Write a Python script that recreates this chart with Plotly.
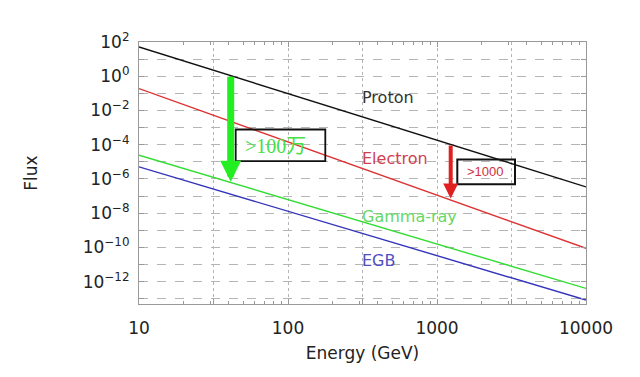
import plotly.graph_objects as go

# ---- data ----
energy = [10, 10000]                       # GeV
proton_flux = [10**1.71, 10**-6.46]
electron_flux = [10**-0.72, 10**-10.05]
gamma_flux = [10**-4.61, 10**-12.39]
egb_flux = [10**-5.29, 10**-13.07]

series_names = ["Proton", "Electron", "Gamma-ray", "EGB"]
line_colors = ["#111111", "#dd3333", "#33dd33", "#3333bb"]
label_colors = ["#333333", "#d04050", "#66d866", "#5050c0"]

x_tickvals = [10, 100, 1000, 10000]
x_ticktext = ["10", "100", "1000", "10000"]
x_half_decades = [10**1.5, 10**2.5, 10**3.5]
x_minor_vals = [m * 10**d for d in (1, 2, 3) for m in range(2, 10)]
y_tickvals = [10**e for e in range(-12, 3, 2)]
y_ticktext = ["10<sup>%s</sup>" % str(e).replace("-", "\u2212") for e in range(-12, 3, 2)]
y_minor_vals = [10**e for e in range(-13, 3, 2)]

# plot-area pixel geometry (for placing marks on paper coordinates)
L, R, T, B = 139, 586, 41.7, 304
def px(x): return (x - L) / (R - L)
def py(y): return (B - y) / (B - T)

fig = go.Figure()
for name, flux, col in zip(series_names, [proton_flux, electron_flux, gamma_flux, egb_flux], line_colors):
    fig.add_trace(go.Scatter(x=energy, y=flux, mode="lines", name=name,
                             line=dict(color=col, width=1.4), showlegend=False))
# invisible trace to anchor the half-decade grid axis
fig.add_trace(go.Scatter(x=energy, y=proton_flux, xaxis="x2", mode="lines",
                         line=dict(width=0), opacity=0, showlegend=False, hoverinfo="skip"))

grid_col = "#b5b5b5"
axis_common = dict(type="log", showline=True, linecolor="#999999", linewidth=1.2,
                   mirror="ticks", ticks="inside", ticklen=5, tickcolor="#999999",
                   gridcolor=grid_col, gridwidth=1, zeroline=False,
                   tickfont=dict(family="DejaVu Sans", size=17, color="#222222"))

fig.update_layout(
    xaxis=dict(**axis_common, range=[1, 4], tickmode="array", tickvals=x_tickvals,
               ticktext=x_ticktext, griddash="dot", ticklabelstandoff=8,
               minor=dict(ticks="inside", ticklen=3, tickcolor="#999999", showgrid=False,
                          tickmode="array", tickvals=x_minor_vals),
               title=dict(text="Energy (GeV)", standoff=10,
                          font=dict(family="DejaVu Sans", size=17, color="#222222"))),
    xaxis2=dict(type="log", overlaying="x", matches="x", range=[1, 4], tickmode="array",
                tickvals=x_half_decades, showticklabels=False, ticks="inside", ticklen=5,
                tickcolor="#999999", showgrid=True, gridcolor=grid_col, griddash="dot",
                showline=False, zeroline=False, side="bottom"),
    yaxis=dict(**axis_common, range=[-13.3, 2], tickmode="array", tickvals=y_tickvals,
               ticktext=y_ticktext, griddash="dash", ticklabelstandoff=5,
               minor=dict(ticks="inside", ticklen=5, tickcolor="#999999", showgrid=True,
                          gridcolor=grid_col, griddash="dash", tickmode="array",
                          tickvals=y_minor_vals),
               title=dict(text="Flux", standoff=40,
                          font=dict(family="DejaVu Sans", size=17, color="#222222"))),
)

# series labels
label_pos = [(360, 97.3), (360, 158.3), (360, 216), (360, 260.7)]
for name, (lx, ly), col in zip(series_names, label_pos, label_colors):
    fig.add_annotation(xref="paper", yref="paper", x=px(lx), y=py(ly), text=name,
                       showarrow=False, xanchor="left", yanchor="middle",
                       font=dict(family="DejaVu Sans", size=16, color=col))

# arrows
fig.add_annotation(xref="paper", yref="paper", x=px(230.7), y=py(181.7), text="",
                   showarrow=True, ax=0, ay=75 - 181.7, arrowhead=2, arrowsize=0.6,
                   arrowwidth=7, arrowcolor="#22ee22", standoff=0)
fig.add_annotation(xref="paper", yref="paper", x=px(450.7), y=py(198.3), text="",
                   showarrow=True, ax=0, ay=144 - 198.3, arrowhead=2, arrowsize=0.75,
                   arrowwidth=4, arrowcolor="#e02020", standoff=0)

# boxes
fig.add_shape(type="rect", xref="paper", yref="paper", x0=px(235.7), x1=px(325.3),
              y0=py(161), y1=py(129.3), line=dict(color="#111111", width=1.8))
fig.add_shape(type="rect", xref="paper", yref="paper", x0=px(457.3), x1=px(515),
              y0=py(184), y1=py(159.3), line=dict(color="#111111", width=2))
fig.add_annotation(xref="paper", yref="paper", x=px(243), y=py(146), text="&gt;100万",
                   showarrow=False, xanchor="left", yanchor="middle",
                   font=dict(family="Liberation Serif, Noto Sans CJK SC", size=20, color="#44e044"))
fig.add_annotation(xref="paper", yref="paper", x=px(465), y=py(171.7), text="&gt;1000",
                   showarrow=False, xanchor="left", yanchor="middle",
                   font=dict(family="Liberation Sans", size=13, color="#d03040"))

fig.update_layout(width=640, height=377, margin=dict(l=L, r=640 - R, t=T, b=377 - B),
                  plot_bgcolor="white", paper_bgcolor="white")
fig.write_html("out.html", post_script="document.body.style.margin='0';",
               config={"displayModeBar": False})
